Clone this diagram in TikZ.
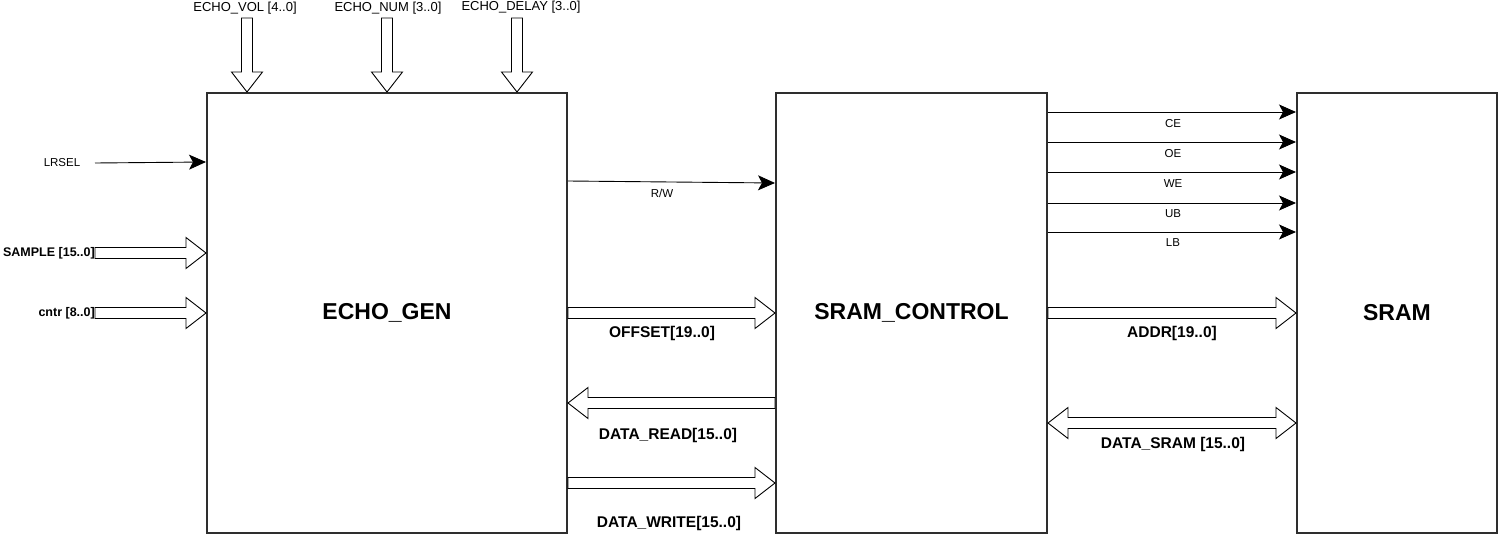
\documentclass[tikz,border=0pt]{standalone}
\usepackage{fontspec}
\setmainfont{Liberation Sans}
\usetikzlibrary{calc,arrows.meta}
\tikzset{
  box/.style={draw=black!82, line width=2pt, inner sep=0pt, font=\bfseries\fontsize{23}{27}\selectfont},
  bus/.style={draw=black, line width=0.9pt, fill=white, line join=miter},
  sig/.style={draw=black, line width=0.9pt, -{Stealth[length=17pt,width=15pt,inset=4pt]}},
  lab/.style={font=\fontsize{13}{15}\selectfont, inner sep=0pt},
  slab/.style={font=\fontsize{11.5}{14}\selectfont, inner sep=0pt},
  blab/.style={font=\bfseries\fontsize{15.5}{18}\selectfont, inner sep=0pt},
  sblab/.style={font=\bfseries\fontsize{12.5}{15}\selectfont, inner sep=0pt},
}
\newcommand\busarrow[2]{%
  \coordinate (bA) at #1; \coordinate (bB) at #2;
  \coordinate (bH) at ($(bB)!20pt!(bA)$);
  \draw[bus] ($(bA)!5.5pt!90:(bB)$) -- ($(bH)!5.5pt!90:(bB)$) -- ($(bH)!15.5pt!90:(bB)$) -- (bB)
    -- ($(bH)!15.5pt!-90:(bB)$) -- ($(bH)!5.5pt!-90:(bB)$) -- ($(bA)!5.5pt!-90:(bB)$) -- cycle;}
\newcommand\busdouble[2]{%
  \coordinate (bA) at #1; \coordinate (bB) at #2;
  \coordinate (bH) at ($(bB)!20pt!(bA)$);
  \coordinate (bG) at ($(bA)!20pt!(bB)$);
  \draw[bus] (bA) -- ($(bG)!15.5pt!90:(bB)$) -- ($(bG)!5.5pt!90:(bB)$) -- ($(bH)!5.5pt!90:(bB)$) -- ($(bH)!15.5pt!90:(bB)$) -- (bB)
    -- ($(bH)!15.5pt!-90:(bB)$) -- ($(bH)!5.5pt!-90:(bB)$) -- ($(bG)!5.5pt!-90:(bB)$) -- ($(bG)!15.5pt!-90:(bB)$) -- cycle;}
\begin{document}
\begin{tikzpicture}[x=1pt,y=-1pt]
\useasboundingbox (0,0) rectangle (1499,535);
% blocks
\node[box, minimum width=360pt, minimum height=440pt] (gen) at (387,313) {ECHO\_GEN};
\node[box, minimum width=271pt, minimum height=440pt] (ctl) at (911.5,313) {SRAM\_CONTROL};
\node[box, minimum width=200pt, minimum height=440pt] (sram) at (1397,313) {SRAM};
% top inputs
\node[lab] (vol) at (245,8) {ECHO\_VOL [4..0]};
\node[lab] (num) at (388,8) {ECHO\_NUM [3..0]};
\node[lab] (dly) at (521,7) {ECHO\_DELAY [3..0]};
\coordinate (volS) at (247,18);
\coordinate (numS) at (387,18);
\coordinate (dlyS) at (517,18);
\busarrow{(volS)}{(volS |- gen.north)}
\busarrow{(numS)}{(numS |- gen.north)}
\busarrow{(dlyS)}{(dlyS |- gen.north)}
% left inputs
\node[slab] (lrsel) at (62,163) {LRSEL};
\coordinate (lrS) at (95,163);
\draw[sig] (lrS) -- (gen.west |- 0,162);
\node[sblab, anchor=east] (sample) at (95,253) {SAMPLE [15..0]};
\busarrow{(sample.east)}{(sample.east -| gen.west)}
\node[sblab, anchor=east] (cntr) at (95,313) {cntr [8..0]};
\busarrow{(cntr.east)}{(cntr.east -| gen.west)}
% gen <-> control
\draw[sig] (gen.east |- 0,181) -- (ctl.west |- 0,183);
\node[slab] (rw) at (662,193) {R/W};
\busarrow{(gen.east)}{(ctl.west)}
\node[blab] (off) at (662,333) {OFFSET[19..0]};
\busarrow{(ctl.west |- 0,403)}{(gen.east |- 0,403)}
\node[blab] (dr) at (668,435) {DATA\_READ[15..0]};
\busarrow{(gen.east |- 0,483)}{(ctl.west |- 0,483)}
\node[blab] (dw) at (669,523) {DATA\_WRITE[15..0]};
% control -> sram
\draw[sig] (ctl.east |- 0,112) -- (sram.west |- 0,112);
\node[slab] (ce) at (1173,124) {CE};
\draw[sig] (ctl.east |- 0,142) -- (sram.west |- 0,142);
\node[slab] (oe) at (1173,154) {OE};
\draw[sig] (ctl.east |- 0,172) -- (sram.west |- 0,172);
\node[slab] (we) at (1173,184) {WE};
\draw[sig] (ctl.east |- 0,203) -- (sram.west |- 0,203);
\node[slab] (ub) at (1173,214) {UB};
\draw[sig] (ctl.east |- 0,232) -- (sram.west |- 0,232);
\node[slab] (lb) at (1173,243) {LB};
\busarrow{(ctl.east)}{(sram.west)}
\node[blab] (addr) at (1172,333) {ADDR[19..0]};
\busdouble{(ctl.east |- 0,423)}{(sram.west |- 0,423)}
\node[blab] (ds) at (1173,444) {DATA\_SRAM [15..0]};
\end{tikzpicture}
\end{document}
